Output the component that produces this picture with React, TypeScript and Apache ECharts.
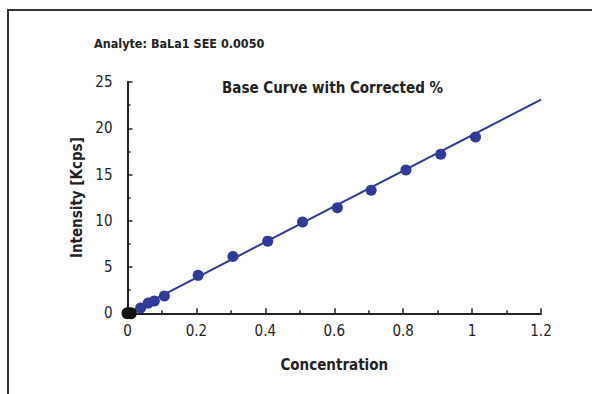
import React, { useEffect, useRef } from "react";
import * as echarts from "echarts";

const FONT = "'Liberation Sans Narrow', 'DejaVu Sans Condensed', 'Roboto Condensed', sans-serif";

const blankConc = [0, 0.01];
const blankIntensity = [0, 0];
const stdConc = [0.038, 0.06, 0.078, 0.107, 0.205, 0.306, 0.407, 0.508, 0.609, 0.707, 0.808, 0.909, 1.01];
const stdIntensity = [0.57, 1.1, 1.33, 1.86, 4.1, 6.15, 7.8, 9.86, 11.4, 13.3, 15.5, 17.2, 19.05];
const fitConc = [0, 1.2];
const fitIntensity = [0, 23.1];

const xTicks = { min: 0, max: 1.2, interval: 0.2 };
const yTicks = { min: 0, max: 25, interval: 5 };

export default function App() {
  const ref = useRef<HTMLDivElement>(null);
  useEffect(() => {
    document.body.style.margin = "0";
    const chart = echarts.init(ref.current!, null, { renderer: "svg" });
    const axisCommon = {
      axisLine: { show: true, lineStyle: { color: "#222", width: 2 } },
      axisTick: { show: true, inside: true, length: 5, lineStyle: { color: "#222", width: 1.5 } },
      minorTick: { show: true, splitNumber: 2, length: 3, lineStyle: { color: "#222", width: 1.5 } },
      splitLine: { show: false },
      axisLabel: { color: "#222", fontFamily: FONT, fontSize: 15 },
      nameTextStyle: { color: "#222", fontFamily: FONT, fontSize: 15, fontWeight: "bold" },
    };
    chart.setOption({
      animation: false,
      backgroundColor: "#fff",
      grid: { left: 127.5, right: 51, top: 82, bottom: 80.7, containLabel: false },
      title: [
        {
          text: "Analyte: BaLa1 SEE 0.0050",
          left: 94,
          top: 37,
          padding: 0,
          textStyle: { fontFamily: FONT, fontSize: 12.5, fontWeight: "bold", color: "#222" },
        },
        {
          text: "Base Curve with Corrected %",
          left: 222,
          top: 80,
          padding: 0,
          textStyle: { fontFamily: FONT, fontSize: 15, fontWeight: "bold", color: "#222" },
        },
      ],
      xAxis: {
        type: "value",
        ...xTicks,
        ...axisCommon,
        axisLabel: { ...axisCommon.axisLabel, margin: 10 },
        name: "Concentration",
        nameLocation: "middle",
        nameGap: 44,
      },
      yAxis: {
        type: "value",
        ...yTicks,
        ...axisCommon,
        axisLabel: { ...axisCommon.axisLabel, margin: 15 },
        name: "Intensity [Kcps]",
        nameLocation: "middle",
        nameGap: 43,
      },
      graphic: [
        {
          type: "rect",
          shape: { x: 8, y: 10, width: 700, height: 500 },
          style: { fill: "none", stroke: "#333", lineWidth: 2 },
          silent: true,
        },
      ],
      series: [
        {
          type: "line",
          data: fitConc.map((c, i) => [c, fitIntensity[i]]),
          showSymbol: false,
          symbol: "none",
          lineStyle: { color: "#2f3a9a", width: 2 },
          z: 2,
        },
        {
          type: "scatter",
          data: stdConc.map((c, i) => [c, stdIntensity[i]]),
          symbol: "circle",
          symbolSize: 11,
          itemStyle: { color: "#2e3a9c", opacity: 1 },
          z: 3,
        },
        {
          type: "scatter",
          data: blankConc.map((c, i) => [c, blankIntensity[i]]),
          symbol: "circle",
          symbolSize: 12,
          itemStyle: { color: "#111", opacity: 1 },
          z: 4,
        },
      ],
    });
    return () => chart.dispose();
  }, []);
  return <div ref={ref} style={{ width: 592, height: 394 }} />;
}
